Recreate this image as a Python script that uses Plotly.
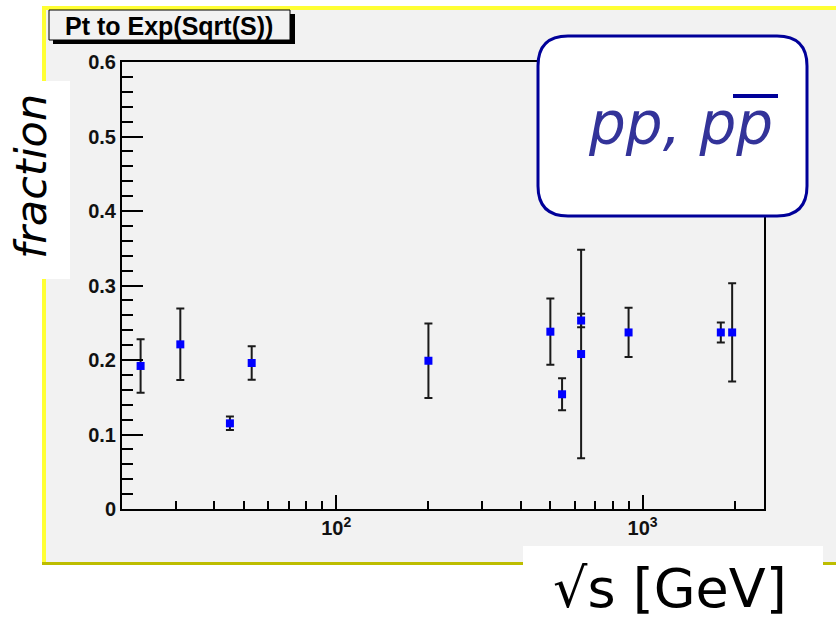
import plotly.graph_objects as go
import numpy as np

# ---- data ----
sqrt_s = [23, 31, 45, 53, 200, 500, 546, 630, 630, 900, 1800, 1960]
fraction = [0.192, 0.221, 0.115, 0.196, 0.199, 0.238, 0.154, 0.253, 0.208, 0.237, 0.237, 0.237]
fraction_err = [0.036, 0.048, 0.009, 0.0225, 0.050, 0.0445, 0.0215, 0.009, 0.140, 0.033, 0.0135, 0.066]

x_major_ticks = [100, 1000]
x_major_text = ["10<sup>2</sup>", "10<sup>3</sup>"]
x_minor_ticks = [30, 40, 50, 60, 70, 80, 90, 200, 300, 400, 500, 600, 700, 800, 900, 2000]
y_major_ticks = [0, 0.1, 0.2, 0.3, 0.4, 0.5, 0.6]
y_major_text = ["0", "0.1", "0.2", "0.3", "0.4", "0.5", "0.6"]

W, H = 836, 623
L, R, T, B = 122, 764, 62, 509   # plot-area pixel edges


def px(x):
    return (x - L) / (R - L)


def py(y):
    return (B - y) / (B - T)


CANVAS = "#f2f2f2"

fig = go.Figure()
fig.add_trace(go.Scatter(
    x=sqrt_s, y=fraction, mode="markers",
    marker=dict(symbol="square", size=8, color="#0000ff"),
    error_y=dict(type="data", array=fraction_err, visible=True,
                 color="#1a1a1a", thickness=2, width=4),
    showlegend=False, cliponaxis=False,
))

shapes = []
# canvas (grey) with yellow frame
shapes.append(dict(type="rect", xref="paper", yref="paper", layer="below",
                   x0=px(42), x1=px(840), y0=py(565), y1=py(6),
                   fillcolor=CANVAS, line=dict(width=0)))
shapes.append(dict(type="rect", xref="paper", yref="paper", layer="below",
                   x0=px(42), x1=px(840), y0=py(10), y1=py(6),
                   fillcolor="#ffff33", line=dict(width=0)))
shapes.append(dict(type="rect", xref="paper", yref="paper", layer="below",
                   x0=px(42), x1=px(46), y0=py(565), y1=py(6),
                   fillcolor="#ffff33", line=dict(width=0)))
shapes.append(dict(type="rect", xref="paper", yref="paper", layer="below",
                   x0=px(42), x1=px(840), y0=py(565), y1=py(562),
                   fillcolor="#bdbd00", line=dict(width=0)))
# title box with shadow
shapes.append(dict(type="rect", xref="paper", yref="paper", layer="above",
                   x0=px(53), x1=px(295), y0=py(44), y1=py(14),
                   fillcolor="black", line=dict(width=0)))
shapes.append(dict(type="rect", xref="paper", yref="paper", layer="above",
                   x0=px(49), x1=px(290), y0=py(40), y1=py(10),
                   fillcolor=CANVAS, line=dict(width=1, color="black")))
# white box behind y title
shapes.append(dict(type="rect", xref="paper", yref="paper", layer="above",
                   x0=px(0), x1=px(70), y0=py(279), y1=py(81),
                   fillcolor="white", line=dict(width=0)))
# white box behind x title
shapes.append(dict(type="rect", xref="paper", yref="paper", layer="above",
                   x0=px(523), x1=px(823), y0=py(623), y1=py(546),
                   fillcolor="white", line=dict(width=0)))
# rounded label box
bx0, bx1, by0, by1, r = 538, 807, 36, 216, 30
pts = [
    ("M", (bx0 + r, by0)), ("L", (bx1 - r, by0)), ("Q", (bx1, by0), (bx1, by0 + r)),
    ("L", (bx1, by1 - r)), ("Q", (bx1, by1), (bx1 - r, by1)),
    ("L", (bx0 + r, by1)), ("Q", (bx0, by1), (bx0, by1 - r)),
    ("L", (bx0, by0 + r)), ("Q", (bx0, by0), (bx0 + r, by0)),
]
path = ""
for item in pts:
    cmd = item[0]
    coords = " ".join(f"{px(a):.5f},{py(b):.5f}" for a, b in item[1:])
    path += f"{cmd} {coords} "
path += "Z"
shapes.append(dict(type="path", xref="paper", yref="paper", layer="above",
                   path=path, fillcolor="white",
                   line=dict(color="#000099", width=3)))
# overline of anti-proton
shapes.append(dict(type="line", xref="paper", yref="paper", layer="above",
                   x0=px(733), x1=px(778), y0=py(96), y1=py(96),
                   line=dict(color="#000099", width=4)))

annotations = [
    dict(text="<b>Pt to Exp(Sqrt(S))</b>", xref="paper", yref="paper",
         x=px(169), y=py(26), xanchor="center", yanchor="middle", showarrow=False,
         font=dict(family="Liberation Sans", size=25, color="black")),
    dict(text="fraction", xref="paper", yref="paper",
         x=px(31), y=py(177), xanchor="center", yanchor="middle", showarrow=False,
         textangle=-90,
         font=dict(family="DejaVu Sans", size=43, color="black", style="italic")),
    dict(text="√s [GeV]", xref="paper", yref="paper",
         x=px(670), y=py(588), xanchor="center", yanchor="middle", showarrow=False,
         font=dict(family="DejaVu Sans", size=54, color="black")),
    dict(text="pp, pp", xref="paper", yref="paper",
         x=px(680), y=py(124), xanchor="center", yanchor="middle", showarrow=False,
         font=dict(family="DejaVu Sans", size=58, color="#333399", style="italic")),
]

tickfont = dict(family="Liberation Sans", size=20, color="#111111", weight="bold")

fig.update_layout(
    width=W, height=H,
    margin=dict(l=L, r=W - R, t=T, b=H - B, pad=0),
    paper_bgcolor="white", plot_bgcolor=CANVAS,
    shapes=shapes, annotations=annotations,
    xaxis=dict(type="log", range=[np.log10(20), np.log10(2490)],
               tickmode="array", tickvals=x_major_ticks, ticktext=x_major_text,
               ticks="inside", ticklen=14, tickwidth=1.5, tickcolor="black",
               minor=dict(tickmode="array", tickvals=x_minor_ticks, ticks="inside",
                          ticklen=8, tickwidth=1.5, tickcolor="black"),
               showgrid=False, zeroline=False,
               showline=True, linecolor="black", linewidth=2, mirror=True,
               tickfont=tickfont),
    yaxis=dict(range=[0, 0.6], tickmode="array", tickvals=y_major_ticks, ticktext=y_major_text,
               ticks="inside", ticklen=21, tickwidth=1.5, tickcolor="black",
               minor=dict(dtick=0.02, tick0=0, ticks="inside", ticklen=11,
                          tickwidth=1.5, tickcolor="black"),
               showgrid=False, zeroline=False,
               showline=True, linecolor="black", linewidth=2, mirror=True,
               tickfont=tickfont),
)

fig.write_html("out.html")
